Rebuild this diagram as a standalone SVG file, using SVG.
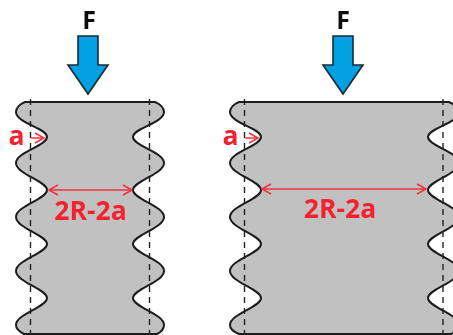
<svg xmlns="http://www.w3.org/2000/svg" width="453" height="335" viewBox="0 0 453 335">
<style>
.body{fill:#c1c1c1;stroke:#1c1c1c;stroke-width:2}
.dash{stroke:#222;stroke-width:1.4;stroke-dasharray:6 5;fill:none}
.force{fill:#00a0e3;stroke:#1a2a33;stroke-width:1.6;stroke-linejoin:miter}
.dim{stroke:#f0303c;stroke-width:1.5;fill:none}
.f{font:bold 25px "Open Sans","Noto Sans",sans-serif;fill:#111;text-anchor:middle}
.r{font:bold 26.5px "Open Sans","Noto Sans",sans-serif;fill:#f4242f;text-anchor:middle}
</style>
<defs><filter id="soft" x="-5%" y="-5%" width="110%" height="110%"><feGaussianBlur stdDeviation="0.4"/></filter>
<marker id="ah" markerWidth="12" markerHeight="12" refX="10" refY="6" orient="auto-start-reverse" markerUnits="userSpaceOnUse"><path d="M1 1L10 6L1 11" fill="none" stroke="#f0303c" stroke-width="1.5"/></marker></defs>
<g filter="url(#soft)">
<g id="specimen-narrow">
<path class="body" d="M25 102H155C160 104 164 108 164 112C164 123 133 128 133 137C133 146 164 152 164 163C164 174 133 181 133 190C133 199 164 206 164 217C164 228 133 235 133 244C133 253 164 260 164 271C164 282 133 289 133 298C133 307 164 314 164 325C164 329 161 332 157 334H24C20 332 16 329 16 325C16 314 47 307 47 298C47 289 16 282 16 271C16 260 47 253 47 244C47 235 16 228 16 217C16 206 47 199 47 190C47 181 16 174 16 163C16 152 47 146 47 137C47 128 16 123 16 112C16 108 20 104 25 102Z"/>
<line class="dash" x1="30.5" y1="99" x2="30.5" y2="335"/><line class="dash" x1="149.5" y1="99" x2="149.5" y2="335"/>
</g>
<g id="specimen-wide">
<path class="body" d="M239 102H449C454 104 459 108 459 112C459 123 428 128 428 137C428 146 459 152 459 163C459 174 428 181 428 190C428 199 459 206 459 217C459 228 428 235 428 244C428 253 459 260 459 271C459 282 428 289 428 298C428 307 459 314 459 325C459 329 456 332 451 334H239C234 332 230 329 230 325C230 314 261 307 261 298C261 289 230 282 230 271C230 260 261 253 261 244C261 235 230 228 230 217C230 206 261 199 261 190C261 181 230 174 230 163C230 152 261 146 261 137C261 128 230 123 230 112C230 108 234 104 239 102Z"/>
<line class="dash" x1="244.5" y1="99" x2="244.5" y2="335"/><line class="dash" x1="443" y1="99" x2="443" y2="335"/>
</g>
<g id="load-left"><path class="force" d="M78 36H98V65H108L88 94L68 65H78Z"/><text class="f" x="89" y="29">F</text></g>
<g id="load-right"><path class="force" d="M333 36H353V65H363L343 94L323 65H333Z"/><text class="f" x="343" y="29">F</text></g>
<g id="connectors">
<line class="dim" x1="31" y1="138" x2="44" y2="138" marker-end="url(#ah)"/>
<line class="dim" x1="245" y1="138" x2="258" y2="138" marker-end="url(#ah)"/>
<line class="dim" x1="49" y1="190" x2="132" y2="190" marker-start="url(#ah)" marker-end="url(#ah)"/>
<line class="dim" x1="262" y1="189" x2="426" y2="189" marker-start="url(#ah)" marker-end="url(#ah)"/>
</g>
<g id="labels">
<text class="r" x="16.5" y="145">a</text><text class="r" x="230.5" y="145">a</text>
<text class="r" x="90.5" y="220">2R-2a</text><text class="r" x="340" y="218">2R-2a</text>
</g>
</g>
</svg>
